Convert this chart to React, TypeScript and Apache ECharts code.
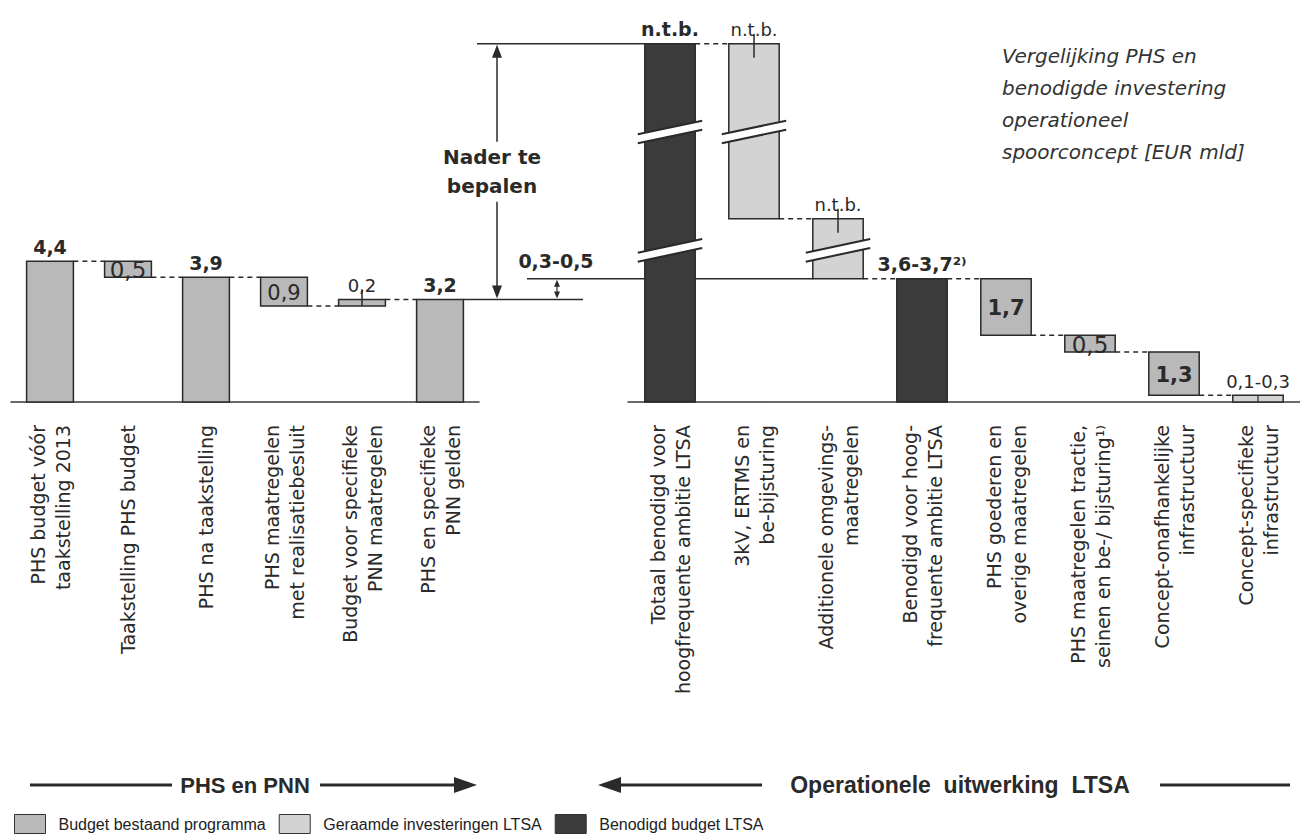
import React, { useEffect, useRef } from "react";
import * as echarts from "echarts";

// ---------- data ----------
const LEFT_CATS = [
  "PHS budget vóór\ntaakstelling 2013",
  "Taakstelling PHS budget",
  "PHS na taakstelling",
  "PHS maatregelen\nmet realisatiebesluit",
  "Budget voor specifieke\nPNN maatregelen",
  "PHS en specifieke\nPNN gelden",
];
const LEFT_LOW = [0, 3.9, 0, 3.0, 3.0, 0];
const LEFT_HIGH = [4.4, 4.4, 3.9, 3.9, 3.2, 3.2];
const LEFT_LABELS = ["4,4", "0,5", "3,9", "0,9", "0,2", "3,2"];
const LEFT_KIND = ["budget", "budget", "budget", "budget", "budget", "budget"];
const LEFT_LINKS = [4.4, 3.9, 3.9, 3.0, 3.2];

const RIGHT_CATS = [
  "Totaal benodigd voor\nhoogfrequente ambitie LTSA",
  "3kV, ERTMS en\nbe-bijsturing",
  "Additionele omgevings-\nmaatregelen",
  "Benodigd voor hoog-\nfrequente ambitie LTSA",
  "PHS goederen en\noverige maatregelen",
  "PHS maatregelen tractie,\nseinen en be-/ bijsturing¹⁾",
  "Concept-onafhankelijke\ninfrastructuur",
  "Concept-specifieke\ninfrastructuur",
];
// "n.t.b." bars have no known value: notional heights, drawn with axis breaks
const RIGHT_LOW = [0, 5.5, 3.7, 0, 2.0, 1.5, 0.2, 0];
const RIGHT_HIGH = [10.75, 10.75, 5.5, 3.7, 3.7, 2.0, 1.5, 0.2];
const RIGHT_LABELS = ["n.t.b.", "n.t.b.", "n.t.b.", "3,6-3,7²⁾", "1,7", "0,5", "1,3", "0,1-0,3"];
const RIGHT_KIND = ["benodigd", "geraamd", "geraamd", "benodigd", "budget", "budget", "budget", "geraamd"];
const RIGHT_LINKS = [10.75, 5.5, 3.7, 3.7, 2.0, 1.5, 0.2];
const RIGHT_BREAKS = [[8.1, 4.55], [8.1], [4.55], [], [], [], [], []];

const GAP_LABEL = "0,3-0,5";
const NADER_LABEL = "Nader te\nbepalen";
const GROUP_LEFT = "PHS en PNN";
const GROUP_RIGHT = "Operationele  uitwerking  LTSA";
const TITLE = "Vergelijking PHS en\nbenodigde investering\noperationeel\nspoorconcept [EUR mld]";

const SERIES_NAMES: Record<string, string> = {
  budget: "Budget bestaand programma",
  geraamd: "Geraamde investeringen LTSA",
  benodigd: "Benodigd budget LTSA",
};

// ---------- styles ----------
const COLORS: Record<string, string> = {
  budget: "#b9b9b9",
  geraamd: "#d3d3d3",
  benodigd: "#3b3b3b",
};
const LEFT_LABEL_MODE = ["top-bold", "inside-big", "top-bold", "inside", "top", "top-bold"];
const RIGHT_LABEL_MODE = ["top-bold", "top", "top", "top-bold", "inside-bold", "inside-big", "inside-bold", "top"];
const LEFT_TICK = ["", "", "", "", "top", ""];
const RIGHT_TICK = ["", "top", "top", "", "", "", "", "split"];
const FONT = "'DejaVu Sans', sans-serif";
const BAR_RATIO = 0.6;
const INK = "#2a2a2a";

const LABEL_FONT: Record<string, { w: string; s: number }> = {
  "top-bold": { w: "bold", s: 19 },
  top: { w: "normal", s: 18 },
  inside: { w: "normal", s: 21 },
  "inside-big": { w: "normal", s: 23 },
  "inside-bold": { w: "bold", s: 21 },
};

function txt(text: string, x: number, y: number, font: string, align: string, valign: string, extra: any = {}) {
  return {
    type: "text",
    style: {
      text,
      x,
      y,
      font,
      fill: INK,
      align,
      verticalAlign: valign,
      textAlign: align,
      textVerticalAlign: valign,
      ...extra,
    },
  };
}

function barRenderer(kinds: string[], labels: string[], modes: string[], ticks: string[], breaks: number[][]) {
  return (params: any, api: any) => {
    const i = api.value(0) as number;
    const low = api.value(1) as number;
    const high = api.value(2) as number;
    const pT = api.coord([i, high]);
    const pB = api.coord([i, low]);
    const bw = api.size([1, 0])[0] * BAR_RATIO;
    const xc = pT[0];
    const xL = xc - bw / 2;
    const xR = xc + bw / 2;
    const children: any[] = [];
    children.push({
      type: "rect",
      shape: { x: xL, y: pT[1], width: bw, height: pB[1] - pT[1] },
      style: { fill: COLORS[kinds[i]], stroke: INK, lineWidth: 1.5 },
    });
    (breaks[i] || []).forEach((v) => {
      const cy = api.coord([i, v])[1];
      const s = -14 / 66;
      const off = 4.5;
      const ext = 7;
      const l1 = (x: number) => cy - off + s * (x - xc);
      const l2 = (x: number) => cy + off + s * (x - xc);
      children.push({
        type: "polygon",
        shape: { points: [[xL - 1, l1(xL - 1)], [xR + 1, l1(xR + 1)], [xR + 1, l2(xR + 1)], [xL - 1, l2(xL - 1)]] },
        style: { fill: "#ffffff" },
      });
      [l1, l2].forEach((f) => {
        children.push({
          type: "line",
          shape: { x1: xL - ext, y1: f(xL - ext), x2: xR + ext, y2: f(xR + ext) },
          style: { stroke: INK, lineWidth: 2 },
        });
      });
    });
    if (ticks[i] === "top") {
      children.push({
        type: "line",
        shape: { x1: xc, y1: pT[1] - 10, x2: xc, y2: Math.min(pT[1] + 14, pB[1]) },
        style: { stroke: INK, lineWidth: 1.5 },
      });
    } else if (ticks[i] === "split") {
      children.push({
        type: "line",
        shape: { x1: xc, y1: pT[1], x2: xc, y2: pB[1] },
        style: { stroke: INK, lineWidth: 1.2 },
      });
    }
    const mode = modes[i];
    const f = LABEL_FONT[mode];
    const font = `${f.w} ${f.s}px ${FONT}`;
    if (mode.indexOf("inside") === 0) {
      children.push(txt(labels[i], xc, (pT[1] + pB[1]) / 2 + 1, font, "center", "middle"));
    } else {
      children.push(txt(labels[i], xc, pT[1] - 5, font, "center", "bottom"));
    }
    return { type: "group", children };
  };
}

function linkRenderer(params: any, api: any) {
  const i = api.value(0) as number;
  const lv = api.value(1) as number;
  const p = api.coord([i, lv]);
  const q = api.coord([i + 1, lv]);
  const bw = api.size([1, 0])[0] * BAR_RATIO;
  return {
    type: "line",
    shape: { x1: p[0] + bw / 2, y1: p[1], x2: q[0] - bw / 2, y2: p[1] },
    style: { stroke: INK, lineWidth: 1.5, lineDash: [5, 4] },
  };
}

function buildSeries(gridIdx: number, kinds: string[], low: number[], high: number[], labels: string[], modes: string[], ticks: string[], breaks: number[][], links: number[]) {
  const out: any[] = [];
  const render = barRenderer(kinds, labels, modes, ticks, breaks);
  ["budget", "geraamd", "benodigd"].forEach((k) => {
    const data: number[][] = [];
    kinds.forEach((kk, i) => {
      if (kk === k) data.push([i, low[i], high[i]]);
    });
    if (!data.length) return;
    out.push({
      type: "custom",
      name: SERIES_NAMES[k],
      xAxisIndex: gridIdx,
      yAxisIndex: gridIdx,
      encode: { x: 0, y: [1, 2] },
      itemStyle: { color: COLORS[k] },
      renderItem: render,
      data,
      z: 3,
    });
  });
  out.push({
    type: "custom",
    xAxisIndex: gridIdx,
    yAxisIndex: gridIdx,
    encode: { x: 0, y: 1 },
    renderItem: linkRenderer,
    data: links.map((v, i) => [i, v]),
    z: 2,
  });
  return out;
}

const axisLabel = {
  interval: 0,
  rotate: 90,
  margin: 23,
  fontSize: 19,
  lineHeight: 25,
  color: INK,
  fontFamily: FONT,
};

export default function App() {
  const ref = useRef<HTMLDivElement>(null);
  useEffect(() => {
    document.body.style.margin = "0";
    const chart = echarts.init(ref.current!, null, { renderer: "svg" });
    const option: any = {
      animation: false,
      backgroundColor: "#ffffff",
      title: {
        text: TITLE,
        left: 1002,
        top: 40,
        padding: 0,
        textStyle: {
          fontStyle: "italic",
          fontWeight: "normal",
          fontSize: 20,
          lineHeight: 32,
          color: "#333",
          fontFamily: FONT,
        },
      },
      legend: {
        left: 9,
        top: 809,
        itemWidth: 31,
        itemHeight: 19,
        itemGap: 13,
        selectedMode: false,
        textStyle: { fontFamily: "'Liberation Sans', Arial, sans-serif", fontSize: 16, color: "#222", padding: [0, 0, 0, 8] },
        data: ["budget", "geraamd", "benodigd"].map((k) => ({
          name: SERIES_NAMES[k],
          icon: "rect",
          itemStyle: { color: COLORS[k], borderColor: "#333", borderWidth: 1 },
        })),
      },
      grid: [
        { left: 11, top: 2, width: 468, height: 400 },
        { left: 628, top: 2, width: 672, height: 400 },
      ],
      xAxis: [
        { gridIndex: 0, type: "category", data: LEFT_CATS, axisLine: { lineStyle: { color: "#3a3a3a", width: 1.5 } }, axisTick: { show: false }, axisLabel },
        { gridIndex: 1, type: "category", data: RIGHT_CATS, axisLine: { lineStyle: { color: "#3a3a3a", width: 1.5 } }, axisTick: { show: false }, axisLabel },
      ],
      yAxis: [
        { gridIndex: 0, type: "value", min: 0, max: 12.5, show: false, splitLine: { show: false } },
        { gridIndex: 1, type: "value", min: 0, max: 12, show: false, splitLine: { show: false } },
      ],
      series: [
        ...buildSeries(0, LEFT_KIND, LEFT_LOW, LEFT_HIGH, LEFT_LABELS, LEFT_LABEL_MODE, LEFT_TICK, LEFT_LABEL_MODE.map(() => []), LEFT_LINKS),
        ...buildSeries(1, RIGHT_KIND, RIGHT_LOW, RIGHT_HIGH, RIGHT_LABELS, RIGHT_LABEL_MODE, RIGHT_TICK, RIGHT_BREAKS, RIGHT_LINKS),
      ],
    };
    chart.setOption(option);

    const px0 = (x: number, y: number) => chart.convertToPixel({ xAxisIndex: 0, yAxisIndex: 0 }, [x, y]) as number[];
    const px1 = (x: number, y: number) => chart.convertToPixel({ xAxisIndex: 1, yAxisIndex: 1 }, [x, y]) as number[];
    const bwL = (px0(1, 0)[0] - px0(0, 0)[0]) * BAR_RATIO;
    const bwR = (px1(1, 0)[0] - px1(0, 0)[0]) * BAR_RATIO;
    const topY = px1(0, RIGHT_HIGH[0])[1];
    const totLeft = px1(0, 0)[0] - bwR / 2;
    const addLeft = px1(2, 0)[0] - bwR / 2;
    const p32 = px0(5, LEFT_HIGH[5]);
    const y32 = p32[1];
    const bar5Right = p32[0] + bwL / 2;
    const y37 = px1(3, RIGHT_HIGH[3])[1];

    const ln = (x1: number, y1: number, x2: number, y2: number, w = 1.5) => ({
      type: "line",
      shape: { x1, y1, x2, y2 },
      style: { stroke: INK, lineWidth: w },
    });
    const poly = (points: number[][]) => ({ type: "polygon", shape: { points }, style: { fill: INK } });

    const ax = 497;
    const midY = (topY + y32) / 2;
    const ax2 = 557;
    const gy = 785;
    const groupFontL = `bold 22px 'Liberation Sans', Arial, sans-serif`;
    const groupFontR = `bold 23px 'Liberation Sans', Arial, sans-serif`;

    const graphic: any[] = [
      ln(477, topY, totLeft, topY),
      ln(bar5Right, y32, 583, y32),
      ln(527, y37, addLeft, y37),
      ln(ax, topY + 12, ax, midY - 30),
      ln(ax, midY + 30, ax, y32 - 12),
      poly([[ax, topY + 1], [ax - 5, topY + 14], [ax + 5, topY + 14]]),
      poly([[ax, y32 - 1], [ax - 5, y32 - 14], [ax + 5, y32 - 14]]),
      txt(NADER_LABEL, 492, midY, `bold 20px ${FONT}`, "center", "middle", { lineHeight: 29 }),
      ln(ax2, y37 + 6, ax2, y32 - 6, 1.2),
      poly([[ax2, y37 + 1], [ax2 - 3, y37 + 8], [ax2 + 3, y37 + 8]]),
      poly([[ax2, y32 - 1], [ax2 - 3, y32 - 8], [ax2 + 3, y32 - 8]]),
      txt(GAP_LABEL, 556, y37 - 8, `bold 19px ${FONT}`, "center", "bottom"),
      // group indicators
      ln(30, gy, 172, gy, 3),
      txt(GROUP_LEFT, 245, gy, groupFontL, "center", "middle"),
      ln(320, gy, 456, gy, 3),
      poly([[454, gy - 8], [477, gy], [454, gy + 8]]),
      poly([[598, gy], [621, gy - 8], [621, gy + 8]]),
      ln(619, gy, 762, gy, 3),
      txt(GROUP_RIGHT, 960, gy, groupFontR, "center", "middle"),
      ln(1160, gy, 1290, gy, 3),
    ];
    chart.setOption({ graphic });

    return () => chart.dispose();
  }, []);
  return <div ref={ref} style={{ width: 1300, height: 838 }} />;
}
